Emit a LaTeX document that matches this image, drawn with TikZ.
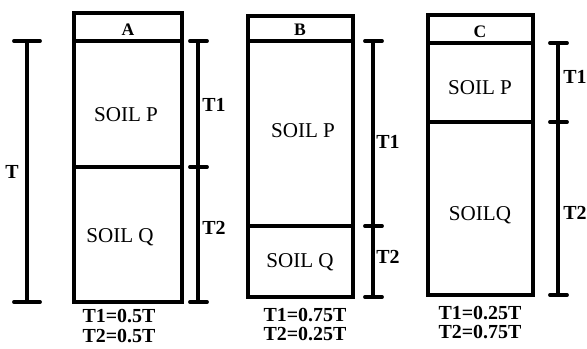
\documentclass[tikz,border=0pt]{standalone}
\usepackage{fontspec}
\setmainfont{Liberation Serif}
\usepackage{tikz}
\usetikzlibrary{positioning}
\tikzset{
  wall/.style={line width=3.6pt},
  layer/.style={line width=2.8pt},
  bar/.style={line width=3.3pt},
  tickmark/.style={line width=3.3pt, line cap=round},
  soil/.style={inner sep=0pt, font=\fontsize{18}{20}\selectfont},
  tag/.style={inner sep=0pt, font=\fontsize{17}{19}\selectfont\bfseries},
  head/.style={inner sep=0pt, font=\fontsize{15}{17}\selectfont\bfseries},
}

\begin{document}
\begin{tikzpicture}[x=0.03cm, y=-0.03cm]
  \useasboundingbox (0,0) rectangle (587,349);
  % total thickness
  \draw[bar] (27,41) -- (27,302);
  \foreach \y in {41,302} \draw[tickmark] (14,\y) -- (40,\y);
  \node[tag] (tT) at (12,172) {T};
  % column A
  \draw[wall] (74,13) rectangle (182,302);
  \draw[layer] (74,41) -- (182,41);
  \draw[layer] (74,167) -- (182,167);
  \node[head] (hA) at (128,30) {A};
  \node[soil] (pA) at (126,115) {SOIL P};
  \node[soil] (qA) at (120,237) {SOIL Q};
  \draw[bar] (198,41) -- (198,302);
  \foreach \y in {41,167,302} \draw[tickmark] (190,\y) -- (207,\y);
  \node[tag] (t1A) at (214,105) {T1};
  \node[tag] (t2A) at (214,228) {T2};
  \node[tag] (rA) at (119,316) {T1=0.5T};
  \node[tag] (sA) at (119,336) {T2=0.5T};
  % column B
  \draw[wall] (248,16) rectangle (353,297);
  \draw[layer] (248,41) -- (353,41);
  \draw[layer] (248,226) -- (353,226);
  \node[head] (hB) at (300,30) {B};
  \node[soil] (pB) at (303,131) {SOIL P};
  \node[soil] (qB) at (300,262) {SOIL Q};
  \draw[bar] (373,41) -- (373,297);
  \foreach \y in {41,226,297} \draw[tickmark] (365,\y) -- (382,\y);
  \node[tag] (t1B) at (388,142) {T1};
  \node[tag] (t2B) at (388,257) {T2};
  \node[tag] (rB) at (305,315) {T1=0.75T};
  \node[tag] (sB) at (305,334) {T2=0.25T};
  % column C
  \draw[wall] (428,15) rectangle (533,295);
  \draw[layer] (428,43) -- (533,43);
  \draw[layer] (428,122) -- (533,122);
  \node[head] (hC) at (480,32) {C};
  \node[soil] (pC) at (480,88) {SOIL P};
  \node[soil] (qC) at (480,215) {SOILQ};
  \draw[bar] (558,43) -- (558,295);
  \foreach \y in {43,122,295} \draw[tickmark] (550,\y) -- (567,\y);
  \node[tag] (t1C) at (575,77) {T1};
  \node[tag] (t2C) at (575,213) {T2};
  \node[tag] (rC) at (480,313) {T1=0.25T};
  \node[tag] (sC) at (480,332) {T2=0.75T};
\end{tikzpicture}
\end{document}
